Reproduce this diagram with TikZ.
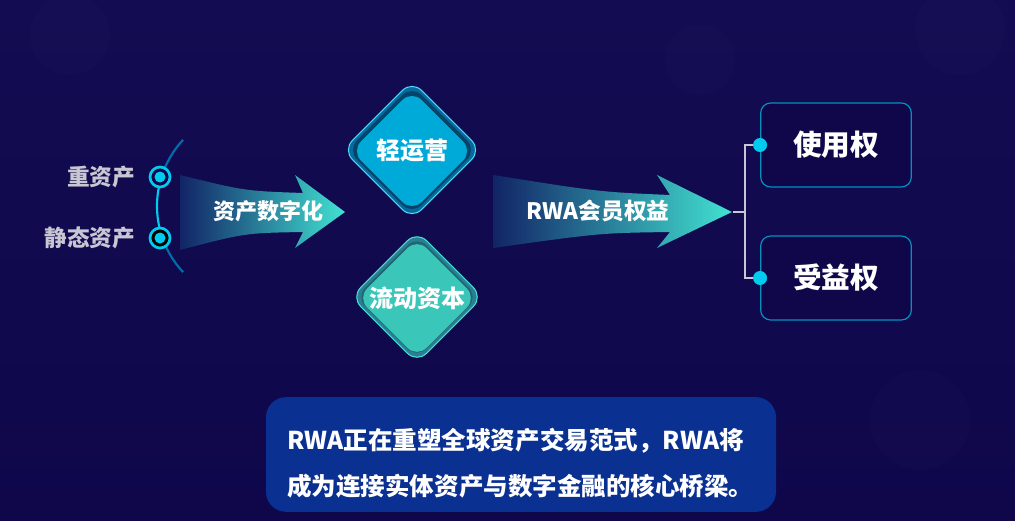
\documentclass[tikz,border=0pt]{standalone}
\usepackage{fontspec}
\setmainfont{Noto Sans CJK SC}
\usetikzlibrary{shapes.geometric,positioning,calc}
\definecolor{fond}{RGB}{15,7,74}
\definecolor{fondhaut}{RGB}{19,12,82}
\definecolor{cyanvif}{RGB}{0,204,240}
\definecolor{turquoise}{RGB}{66,226,210}
\definecolor{bleuarc}{RGB}{0,110,170}
\definecolor{queue}{RGB}{18,36,102}
\definecolor{gris}{RGB}{200,198,210}
\definecolor{bleubandeau}{RGB}{10,48,145}
\definecolor{cyanlos}{RGB}{0,170,216}
\begin{document}
\begin{tikzpicture}[x=0.75pt, y=-0.75pt]
\tikzset{etiq/.style={font=\bfseries\fontsize{17}{19}\selectfont, text=gris, inner sep=0pt},
        anneau/.style={circle, draw=cyanvif, line width=2pt, fill=fond, minimum size=15pt, inner sep=0pt},
        fltxt/.style={font=\bfseries\fontsize{16.5}{18}\selectfont, text=white, inner sep=0pt},
        losange/.style={diamond, aspect=1, inner sep=0pt, minimum size=#1, rounded corners=10pt},
        boite/.style={rectangle, draw=cyanvif!70!fond, line width=0.9pt, fill=fond, rounded corners=7.5pt,
                minimum width=113pt, minimum height=63pt, text=white, font=\bfseries\fontsize{21.5}{24}\selectfont},
        point/.style={circle, fill=cyanvif, minimum size=10.5pt, inner sep=0pt},
        crochet/.style={draw=gris, line width=0.8pt}}
\useasboundingbox (0,0) rectangle (1015,521);
% fond
\shade[top color=fondhaut, bottom color=fond] (0,0) rectangle (1015,521);
\fill[white, opacity=0.012] (70,35) circle (40) (700,60) circle (35) (960,30) circle (45) (920,420) circle (50);

% arc gauche
\coordinate (c) at (254,206);
\draw[bleuarc, line width=1.6pt] ($(c)+(223:97)$) arc[start angle=223, end angle=197, radius=97];
\draw[cyanvif, line width=1.6pt] ($(c)+(197:97)$) arc[start angle=197, end angle=163, radius=97];
\draw[bleuarc, line width=1.6pt] ($(c)+(163:97)$) arc[start angle=163, end angle=137, radius=97];
\node[anneau] (d1) at (160,177) {};
\fill[cyanvif] (d1) circle (5.5);
\node[anneau, fill=black] (d2) at (160,238) {};
\fill[cyanvif] (d2) circle (5.5);
\node[etiq, left=10pt of d1] (lourd) {重资产};
\node[etiq, left=10pt of d2] (statique) {静态资产};

% flèches
\shade[left color=queue, middle color=bleuarc!85!turquoise, right color=turquoise]
    (180,175) .. controls (245,191) .. (303,193) -- (295,175) -- (345,212) -- (295,248) -- (303,232)
    .. controls (245,233) .. (180,250) -- cycle;
\node[fltxt] (numer) at (268,211) {资产数字化};
\shade[left color=queue, middle color=bleuarc!85!turquoise, right color=turquoise]
    (493,175) .. controls (600,192) .. (670,195) -- (657,175) -- (732,212) -- (657,248) -- (670,232)
    .. controls (600,233) .. (493,248) -- cycle;
\node[fltxt, font=\bfseries\fontsize{17}{18}\selectfont] (droits) at (598,211) {RWA会员权益};
\coordinate (pointe) at (733,212);

% losanges
\node[losange=104pt, fill=cyanlos!60!fond, draw=cyanvif!70!white, line width=0.8pt] (l1) at (412,150) {};
\node[losange=97pt, fill=cyanlos!55!black!70!fond] (l1b) at (412,150) {};
\node[losange=91pt, fill=cyanlos, text=white, font=\bfseries\fontsize{18}{20}\selectfont] (leger) at (412,151) {轻运营};
\node[losange=99pt, fill=turquoise!55!fond, draw=turquoise, line width=0.8pt] (l2) at (417,297) {};
\node[losange=92pt, fill=turquoise!60!black!75!fond] (l2b) at (417,297) {};
\node[losange=86pt, fill=turquoise!88!black, text=white, font=\bfseries\fontsize{18}{20}\selectfont] (flux) at (417,298) {流动资本};

% boîtes droite
\node[boite] (usage) at (836,145) {使用权};
\node[boite] (benef) at (836,278) {受益权};
\draw[crochet] (pointe) -- ++(12,0) |- (usage.west);
\draw[crochet] (pointe) -- ++(12,0) |- (benef.west);
\node[point] (p1) at (usage.west) {};
\node[point] (p2) at (benef.west) {};

% bandeau
\node[rectangle, fill=bleubandeau, rounded corners=15pt, minimum width=382.5pt, minimum height=86pt] (cadre) at (521,454.5) {};
\node[anchor=west, align=left, text=white, inner sep=0pt, font=\bfseries\fontsize{18.4}{34.5}\selectfont] (msg) at (287,463)
    {RWA正在重塑全球资产交易范式，RWA将\\成为连接实体资产与数字金融的核心桥梁。};
\end{tikzpicture}
\end{document}
